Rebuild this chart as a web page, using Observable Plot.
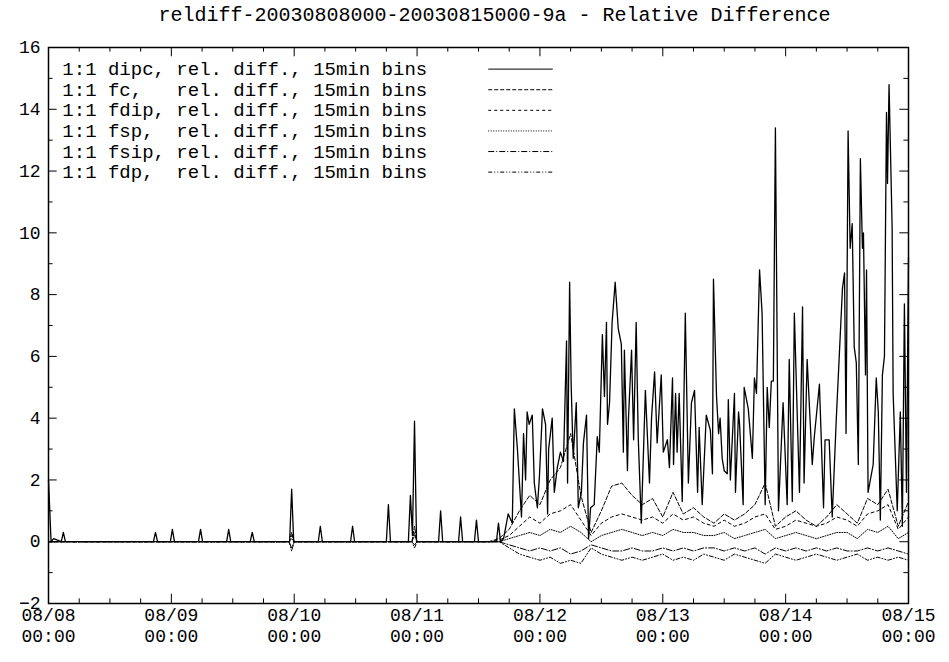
<!DOCTYPE html>
<html>
<head>
<meta charset="utf-8">
<script src="https://cdn.jsdelivr.net/npm/d3@7"></script>
<script src="https://cdn.jsdelivr.net/npm/@observablehq/plot@0.6"></script>
<style>
  body { margin: 0; background: #fff; font-family: "Liberation Mono", monospace; }
  #title { height: 30px; line-height: 32px; text-align: center; font-size: 20px; padding-left: 40px; }
  #chart svg { display: block; }
</style>
</head>
<body>
<div id="title">reldiff-20030808000-20030815000-9a - Relative Difference</div>
<div id="chart"></div>
<script>
// hours since 08/08 00:00, value
const dipcHours = [0,0.5,1,2.5,2.9,3.3,20.5,20.9,21.3,23.8,24.2,24.6,29.3,29.7,30.1,34.8,35.2,35.6,39.4,39.8,40.2,47.1,47.5,47.9,52.7,53.1,53.5,59,59.4,59.8,66,66.4,66.8,70.3,70.7,71.1,71.5,71.9,76.2,76.6,77,80.1,80.5,80.9,83.2,83.6,84,87.5,87.9,88.3,
  88.9,89.8,90.6,91.0,91.6,92.4,92.8,93.2,93.5,93.9,94.5,94.9,95.5,95.9,96.5,97.1,97.5,97.7,98.4,98.8,99.4,100.0,100.6,101.2,101.4,101.8,102.1,102.5,103.1,103.5,104.1,104.5,105.1,105.5,105.9,106.6,107.2,107.6,108.2,108.6,109.0,109.2,109.6,110.1,110.7,111.3,111.9,112.3,112.5,113.1,113.3,113.9,114.3,114.8,115.2,115.8,116.6,117.4,117.8,118.4,118.9,119.7,120.1,120.9,121.3,121.9,122.1,122.5,122.8,123.2,123.8,124.4,125.0,125.6,126.2,126.8,127.1,127.7,128.5,129.3,
  129.7,129.9,130.5,130.9,131.2,131.6,132.0,132.6,132.8,133.2,134.0,134.2,134.8,135.0,135.7,135.9,136.7,137.5,137.9,138.3,138.9,139.4,140.0,140.4,140.8,141.2,141.6,142.0,142.6,143.5,144.3,144.7,145.3,145.7,146.7,147.3,147.6,148.2,149.2,149.6,150.6,151.4,151.7,152.5,153.1,153.9,155.1,155.5,155.8,156.2,156.6,157.0,157.4,157.8,158.2,158.6,159.0,159.2,159.6,159.8,160.1,161.1,161.7,162.1,162.5,162.9,163.3,163.7,163.9,164.2,164.8,165.0,165.8,166.4,166.8,167.2,167.6,168.0];
const dipcValues = [2.0,0,0.1,0,0.3,0,0,0.3,0,0,0.4,0,0,0.4,0,0,0.4,0,0,0.3,0,0,1.7,0,0,0.5,0,0,0.5,0,0,1.2,0,0,1.5,0.2,3.9,0,0,1.0,0,0,0.8,0,0,0.7,0,0,0.6,0,
  0.1,0.9,0.6,4.3,3.0,0.8,3.5,2.0,4.2,3.8,4.1,1.9,1.1,2.1,4.3,3.8,0.9,3.0,4.0,1.6,2.4,2.9,2.6,6.5,1.9,8.4,5.1,2.7,4.5,1.1,1.6,3.2,4.1,0.1,1.1,1.2,3.4,2.9,6.7,4.7,7.1,3.8,4.5,7.1,8.4,6.9,6.4,2.9,6.2,2.3,4.0,6.2,3.3,7.1,3.4,0.6,4.9,1.9,4.0,5.5,3.2,5.4,2.9,3.3,2.4,5.3,2.5,4.8,2.9,4.8,1.3,7.4,1.9,4.5,4.9,1.6,3.7,1.2,4.1,3.6,
  2.2,8.5,4.7,3.5,4.0,2.7,2.3,2.2,4.6,2.0,4.8,1.6,4.2,3.8,1.2,5.0,4.3,2.7,5.3,4.8,8.8,7.4,1.2,5.0,3.7,5.2,5.2,13.4,1.0,4.5,1.2,5.9,1.3,7.4,1.6,7.6,1.9,5.9,2.5,3.4,5.1,1.1,3.3,3.3,0.8,4.0,8.2,8.7,3.5,13.3,9.5,10.3,6.3,5.8,2.5,12.4,9.5,10.0,5.4,8.8,1.6,2.5,5.3,4.2,0.7,5.4,6.0,13.9,11.6,14.8,10.2,4.8,1.0,4.2,0.5,7.7,1.6,9.2];

// shared time grid for the other five series
const otherHours = [0,20,40,47,47.5,48,60,71,71.5,72,86,88,
  90,92,94,96,98,100,102,104,106,108,110,112,114,116,118,120,122,124,126,128,130,132,134,136,138,140,142,144,146,148,150,152,154,156,158,160,162,164,166,168];
const fcValues = [0,0,0,0,0.3,0,0,0,0.5,0,0,0.1,
  0.4,1.0,1.5,1.2,2.0,2.4,3.5,1.5,0.3,1.0,1.8,1.9,1.5,1.2,1.4,0.8,1.6,0.9,1.1,0.8,0.6,0.9,0.7,0.9,1.2,1.9,0.5,0.8,1.0,0.7,0.5,0.8,1.2,0.9,0.6,1.4,1.2,1.7,0.5,1.3];
const fdipValues = [0,0,0,0,0.2,0,0,0,0.3,0,0,0.05,
  0.2,0.5,0.8,0.6,0.9,1.0,1.2,0.7,0.2,0.6,0.8,0.9,0.8,0.7,0.8,0.6,0.9,0.7,0.8,0.6,0.5,0.7,0.5,0.6,0.8,0.9,0.4,0.5,0.7,0.6,0.5,0.6,0.8,0.7,0.5,0.9,1.0,1.2,0.4,0.8];
const fspValues = [0,0,0,0,0.1,0,0,0,0.2,0,0,0,
  0.1,0.2,0.3,0.2,0.4,0.3,0.5,0.3,0.0,0.2,0.3,0.4,0.3,0.2,0.3,0.2,0.4,0.3,0.3,0.2,0.2,0.3,0.1,0.2,0.3,0.4,0.1,0.2,0.3,0.2,0.1,0.2,0.3,0.3,0.1,0.4,0.3,0.5,0.1,0.3];
const fsipValues = [0,0,0,0,-0.2,0,0,0,-0.1,0,0,0,
  -0.1,-0.2,-0.3,-0.2,-0.3,-0.2,-0.4,-0.3,-0.1,-0.2,-0.3,-0.3,-0.2,-0.3,-0.3,-0.2,-0.3,-0.2,-0.3,-0.2,-0.2,-0.3,-0.2,-0.3,-0.2,-0.4,-0.2,-0.3,-0.2,-0.3,-0.2,-0.3,-0.2,-0.3,-0.3,-0.2,-0.3,-0.2,-0.3,-0.4];
const fdpValues = [0,0,0,0,-0.3,0,0,0,-0.2,0,0,0,
  -0.2,-0.4,-0.5,-0.6,-0.5,-0.7,-0.6,-0.7,-0.2,-0.4,-0.5,-0.6,-0.5,-0.6,-0.5,-0.4,-0.6,-0.5,-0.6,-0.4,-0.5,-0.6,-0.4,-0.5,-0.6,-0.7,-0.4,-0.5,-0.6,-0.5,-0.4,-0.5,-0.6,-0.5,-0.4,-0.6,-0.5,-0.6,-0.5,-0.6];

const dayLabels = ["08/08","08/09","08/10","08/11","08/12","08/13","08/14","08/15"];
const yTicks = [-2,0,2,4,6,8,10,12,14,16];
const seriesNames = ["1:1 dipc, rel. diff., 15min bins","1:1 fc,   rel. diff., 15min bins","1:1 fdip, rel. diff., 15min bins",
  "1:1 fsp,  rel. diff., 15min bins","1:1 fsip, rel. diff., 15min bins","1:1 fdp,  rel. diff., 15min bins"];
const dashes = [null, "4 2", "3 3", "1 1.5", "6 2 1 2", "4 2 1 2 1 2"];

const dipc = dipcHours.map((h, i) => ({h, v: dipcValues[i]}));
const others = [fcValues, fdipValues, fspValues, fsipValues, fdpValues]
  .map(vals => otherHours.map((h, i) => ({h, v: vals[i]})));

const legend = seriesNames.map((name, i) => ({name, i, y: 15.3 - i * 0.667}));
const majorX = d3.range(0, 169, 24);
const minorX = d3.range(0, 169, 6).filter(h => h % 24 !== 0);

const plot = Plot.plot({
  width: 949,
  height: 632,
  marginLeft: 48,
  marginRight: 41,
  marginTop: 17,
  marginBottom: 59,
  style: { fontFamily: "Liberation Mono, monospace", fontSize: "17px", color: "#000" },
  x: { domain: [0, 168], label: null },
  y: { domain: [-2, 16], label: null },
  marks: [
    Plot.axisX(majorX, { tickSize: 0, tickPadding: 2, lineHeight: 1.2, fontSize: 18,
      tickFormat: h => dayLabels[h / 24] + "\n00:00", label: null }),
    Plot.axisY(yTicks, { tickSize: 0, tickPadding: 8, fontSize: 18, label: null }),
    ...others.map((s, k) => Plot.line(s, { x: "h", y: "v", stroke: "#000", strokeWidth: 1, strokeDasharray: dashes[k + 1] })),
    Plot.line(dipc, { x: "h", y: "v", stroke: "#000", strokeWidth: 1.3 }),
    // inward ticks, mirrored
    Plot.ruleX(majorX, { y1: -2, y2: -1.7, stroke: "#000" }),
    Plot.ruleX(majorX, { y1: 16, y2: 15.7, stroke: "#000" }),
    Plot.ruleX(minorX, { y1: -2, y2: -1.85, stroke: "#000" }),
    Plot.ruleX(minorX, { y1: 16, y2: 15.85, stroke: "#000" }),
    Plot.ruleY(yTicks, { x1: 0, x2: 1.7, stroke: "#000" }),
    Plot.ruleY(yTicks, { x1: 168, x2: 166.3, stroke: "#000" }),
    Plot.ruleY(d3.range(-1, 16, 2), { x1: 0, x2: 0.9, stroke: "#000" }),
    Plot.ruleY(d3.range(-1, 16, 2), { x1: 168, x2: 167.1, stroke: "#000" }),
    // legend
    Plot.text(legend, { x: 2.7, y: "y", text: "name", textAnchor: "start", fontSize: 19, fill: "#000" }),
    ...legend.map(d => Plot.ruleY([d.y], { x1: 86, x2: 98.6, stroke: "#000", strokeWidth: 1, strokeDasharray: dashes[d.i] })),
    Plot.frame({ stroke: "#000", strokeWidth: 1.5 })
  ]
});
document.getElementById("chart").appendChild(plot);
</script>
</body>
</html>
